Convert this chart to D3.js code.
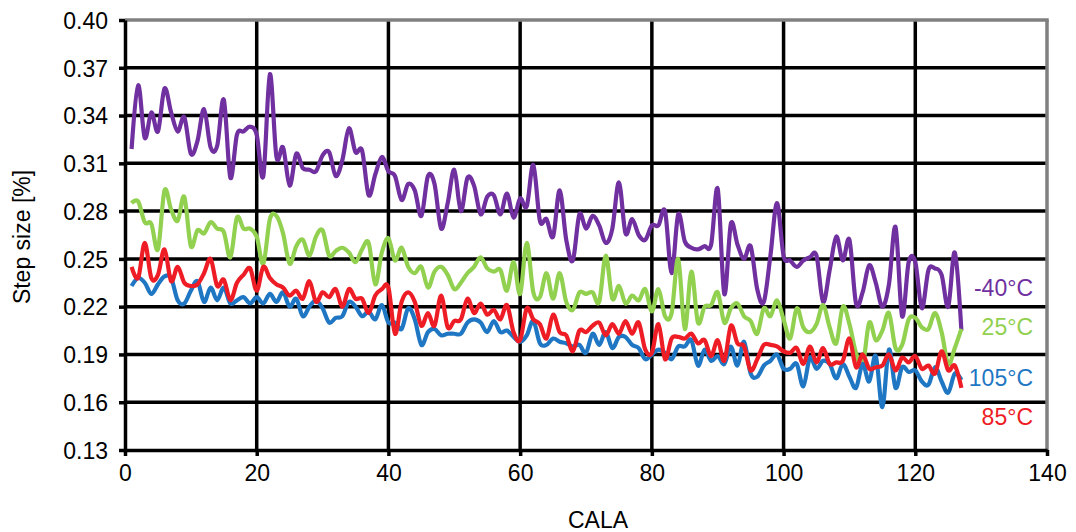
<!DOCTYPE html>
<html><head><meta charset="utf-8">
<script src="https://cdn.jsdelivr.net/npm/d3@7/dist/d3.min.js"></script>
<style>
body{margin:0;background:#fff;}
text{font-family:"Liberation Sans",Arial,sans-serif;fill:#000;}
</style></head><body>
<svg id="c" width="1076" height="532"></svg>
<script>
const yTicks = [0.13,0.16,0.19,0.22,0.25,0.28,0.31,0.34,0.37,0.40];
const xTicks = [0,20,40,60,80,100,120,140];
const seriesNames = ["-40°C","25°C","105°C","85°C"];
const seriesColors = ["#7030A0","#92D050","#1F77C4","#EE1C25"];

const s40 = [0.319,0.359,0.326,0.342,0.330,0.357,0.342,0.330,0.339,0.316,0.324,0.344,0.320,0.321,0.350,0.301,0.328,0.330,0.333,0.328,0.302,0.366,0.314,0.320,0.296,
0.316,0.307,0.306,0.305,0.315,0.317,0.302,0.312,0.332,0.317,0.318,0.290,0.303,0.314,0.305,0.302,0.287,0.297,0.293,0.277,0.302,0.297,0.269,0.285,0.306,
0.280,0.301,0.296,0.278,0.289,0.290,0.278,0.291,0.276,0.288,0.283,0.309,0.274,0.275,0.264,0.293,0.262,0.249,0.278,0.269,0.277,0.271,0.260,0.269,0.298,
0.266,0.275,0.265,0.262,0.271,0.271,0.280,0.241,0.278,0.261,0.257,0.256,0.258,0.259,0.294,0.228,0.272,0.259,0.250,0.258,0.231,0.223,0.252,0.285,0.252,
0.249,0.245,0.249,0.251,0.252,0.223,0.243,0.264,0.249,0.262,0.222,0.229,0.246,0.235,0.220,0.234,0.270,0.214,0.248,0.248,0.219,0.243,0.244,0.240,0.220,0.254,0.205];

const s25 = [0.285,0.286,0.273,0.272,0.256,0.293,0.281,0.274,0.289,0.258,0.268,0.266,0.273,0.269,0.267,0.251,0.276,0.269,0.269,0.264,0.247,0.275,0.277,0.266,0.247,
0.258,0.262,0.252,0.264,0.268,0.252,0.255,0.257,0.254,0.248,0.256,0.260,0.234,0.254,0.263,0.249,0.257,0.245,0.241,0.245,0.232,0.242,0.245,0.240,0.231,
0.235,0.241,0.245,0.251,0.244,0.242,0.243,0.230,0.248,0.228,0.260,0.229,0.226,0.241,0.225,0.241,0.223,0.218,0.229,0.228,0.229,0.223,0.252,0.225,0.233,
0.222,0.227,0.224,0.231,0.217,0.231,0.214,0.216,0.250,0.206,0.242,0.210,0.220,0.221,0.229,0.210,0.219,0.222,0.214,0.211,0.203,0.219,0.214,0.224,0.212,
0.200,0.219,0.207,0.204,0.209,0.221,0.207,0.197,0.220,0.209,0.191,0.183,0.210,0.199,0.205,0.216,0.194,0.196,0.212,0.213,0.207,0.206,0.216,0.204,0.184,0.194,0.206];

const s105 = [0.233,0.238,0.235,0.228,0.234,0.239,0.238,0.224,0.222,0.230,0.236,0.223,0.232,0.224,0.232,0.222,0.224,0.226,0.222,0.226,0.222,0.228,0.223,0.229,0.220,
0.225,0.214,0.220,0.224,0.219,0.210,0.213,0.214,0.223,0.220,0.214,0.217,0.212,0.221,0.210,0.210,0.206,0.219,0.212,0.196,0.204,0.206,0.202,0.203,0.203,
0.203,0.210,0.212,0.210,0.204,0.211,0.204,0.205,0.201,0.198,0.202,0.211,0.197,0.196,0.200,0.198,0.197,0.195,0.196,0.191,0.203,0.196,0.204,0.194,0.201,
0.201,0.196,0.194,0.187,0.190,0.193,0.191,0.187,0.195,0.195,0.199,0.183,0.193,0.186,0.189,0.184,0.195,0.183,0.198,0.178,0.176,0.183,0.186,0.190,0.181,
0.181,0.184,0.170,0.188,0.181,0.186,0.184,0.175,0.184,0.176,0.169,0.184,0.173,0.189,0.157,0.193,0.169,0.182,0.179,0.180,0.173,0.171,0.182,0.173,0.166,0.178,0.174];

const s85 = [0.245,0.238,0.260,0.238,0.240,0.256,0.236,0.245,0.235,0.233,0.234,0.241,0.250,0.233,0.237,0.224,0.235,0.240,0.244,0.230,0.245,0.238,0.234,0.232,0.227,
0.230,0.225,0.236,0.223,0.229,0.226,0.231,0.220,0.231,0.225,0.225,0.216,0.227,0.231,0.232,0.203,0.223,0.229,0.223,0.208,0.216,0.208,0.227,0.207,0.211,
0.212,0.225,0.216,0.222,0.215,0.218,0.212,0.221,0.204,0.199,0.219,0.212,0.209,0.200,0.215,0.204,0.202,0.192,0.205,0.204,0.208,0.210,0.202,0.209,0.203,
0.211,0.203,0.210,0.193,0.191,0.209,0.187,0.200,0.201,0.200,0.203,0.197,0.199,0.189,0.199,0.186,0.208,0.197,0.195,0.180,0.187,0.196,0.196,0.195,0.192,
0.191,0.194,0.184,0.195,0.185,0.194,0.184,0.185,0.186,0.200,0.182,0.190,0.181,0.182,0.183,0.190,0.180,0.188,0.185,0.189,0.181,0.183,0.178,0.192,0.180,0.183,0.169];

const svg = d3.select("#c");
const x = d3.scaleLinear().domain([0,140]).range([125,1047]);
const y = d3.scaleLinear().domain([0.13,0.40]).range([450,20]);
const FS = 23;

// grid
const g = svg.append("g");
g.selectAll("line.h").data(yTicks.filter(v=>v>0.13+1e-9 && v<0.40-1e-9)).join("line")
  .attr("x1",x(0)).attr("x2",x(140)).attr("y1",d=>y(d)).attr("y2",d=>y(d))
  .attr("stroke","#000").attr("stroke-width",3.5);
g.selectAll("line.v").data(xTicks.filter(v=>v>0 && v<140)).join("line")
  .attr("x1",d=>x(d)).attr("x2",d=>x(d)).attr("y1",y(0.40)).attr("y2",y(0.13))
  .attr("stroke","#000").attr("stroke-width",3.5);
// top and right border (grey)
g.append("line").attr("x1",x(0)).attr("x2",x(140)+1.75).attr("y1",y(0.40)).attr("y2",y(0.40))
  .attr("stroke","#808080").attr("stroke-width",3.5);
g.append("line").attr("x1",x(140)).attr("x2",x(140)).attr("y1",y(0.40)).attr("y2",y(0.13))
  .attr("stroke","#808080").attr("stroke-width",3.5);

// axes
const ax = svg.append("g").attr("transform",`translate(0,${y(0.13)})`)
  .call(d3.axisBottom(x).tickValues(xTicks).tickSize(6).tickSizeOuter(0).tickPadding(9));
const ay = svg.append("g").attr("transform",`translate(${x(0)},0)`)
  .call(d3.axisLeft(y).tickValues(yTicks).tickFormat(d3.format(".2f")).tickSize(6).tickSizeOuter(0).tickPadding(11));
[ax,ay].forEach(a=>{
  a.select(".domain").attr("stroke","#000").attr("stroke-width",3.5);
  a.selectAll(".tick line").attr("stroke","#000").attr("stroke-width",3.5);
  a.selectAll(".tick text").attr("font-size",FS).attr("font-family","Liberation Sans, Arial, sans-serif").attr("fill","#000");
});
ay.selectAll(".tick text").attr("dy","0.36em");

// lines
const data = [s40,s25,s105,s85];
const line = d3.line().x((d,i)=>x(i+1)).y(d=>y(d)).curve(d3.curveCatmullRom.alpha(0));
svg.append("g").selectAll("path").data(data).join("path")
  .attr("d",d=>line(d)).attr("fill","none")
  .attr("stroke",(d,i)=>seriesColors[i]).attr("stroke-width",4.2)
  .attr("stroke-linejoin","round").attr("stroke-linecap","butt");

// series labels (pixel baselines)
const labelBase = [296, 335, 386, 425];
svg.append("g").selectAll("text").data(seriesNames).join("text")
  .attr("x",1033).attr("y",(d,i)=>labelBase[i])
  .attr("text-anchor","end").attr("font-size",FS)
  .style("fill",(d,i)=>seriesColors[i]).text(d=>d);

// axis titles
svg.append("text").attr("x",598).attr("y",528).attr("text-anchor","middle").attr("font-size",FS).text("CALA");
svg.append("text").attr("transform","translate(30,237) rotate(-90)").attr("text-anchor","middle").attr("font-size",FS).text("Step size [%]");
</script>
</body></html>
